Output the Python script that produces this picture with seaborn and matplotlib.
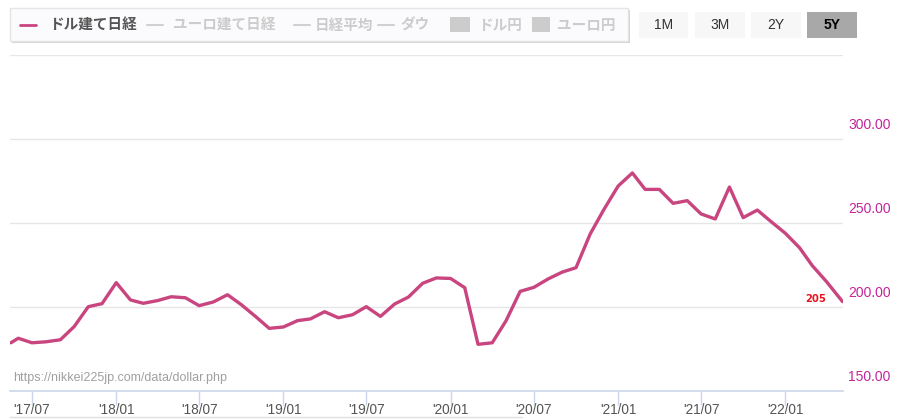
import pandas as pd
import matplotlib.pyplot as plt
import matplotlib.dates as mdates
import matplotlib.patches as mpatches
import matplotlib.transforms as mtransforms
import seaborn as sns

# monthly values of the dollar-denominated Nikkei
dates = ['2017-05-16'] + [d.strftime('%Y-%m-%d') for d in pd.date_range('2017-06-01', '2022-04-01', freq='MS')] + ['2022-05-06']
values = [178.7,
          181.4, 178.7, 179.3, 180.5, 188.3, 200.2, 202.0,
          214.5, 204.2, 202.2, 203.8, 206.1, 205.5, 200.8, 203.0, 207.3, 201.4, 194.4, 187.3,
          188.1, 191.9, 192.9, 197.2, 193.6, 195.4, 200.2, 194.4, 201.8, 205.9, 214.1, 217.3,
          217.0, 211.5, 177.8, 178.7, 191.7, 209.3, 211.7, 216.7, 220.8, 223.4, 243.5, 258.1,
          272.0, 279.8, 270.0, 270.0, 261.7, 263.3, 255.4, 252.4, 271.4, 253.2, 257.7, 250.8,
          243.9, 235.3, 224.6, 215.1,
          203.2]
last_label = '205'
y_ticks = [150, 200, 250, 300, 350]
x_ticks = ['2017-07-01', '2018-01-01', '2018-07-01', '2019-01-01', '2019-07-01',
           '2020-01-01', '2020-07-01', '2021-01-01', '2021-07-01', '2022-01-01']
legend_items = ['ドル建て日経', 'ユーロ建て日経', '日経平均', 'ダウ', 'ドル円', 'ユーロ円']
buttons = ['1M', '3M', '2Y', '5Y']

df = pd.DataFrame({'date': pd.to_datetime(dates), 'value': values})

sns.set_theme(style='white')
plt.rcParams['font.family'] = ['Liberation Sans', 'Noto Sans CJK JP', 'DejaVu Sans']

W, H = 900, 420
fig = plt.figure(figsize=(W / 100, H / 100), dpi=100)


def fx(px):
    return px / W


def fy(py):
    return 1 - py / H


line_color = '#c9457f'
ax = fig.add_axes([fx(10), fy(391), fx(843) - fx(10), fy(55) - fy(391)])
sns.lineplot(data=df, x='date', y='value', color=line_color, linewidth=2.4, ax=ax)

ax.set_xlim(pd.Timestamp('2017-05-14'), pd.Timestamp('2022-05-07'))
ax.set_ylim(150, 350)
ax.set_yticks(y_ticks)
ax.yaxis.grid(True, color='#e6e6e6', linewidth=1)
ax.xaxis.grid(False)
ax.set_yticklabels([])
ax.tick_params(axis='y', length=0)
for s in ['top', 'right', 'left']:
    ax.spines[s].set_visible(False)
ax.spines['bottom'].set_color('#ccd6eb')
ax.spines['bottom'].set_linewidth(1.2)

ax.set_xticks(pd.to_datetime(x_ticks))
ax.xaxis.set_major_formatter(mdates.DateFormatter("'%y/%m"))
ax.tick_params(axis='x', length=10, width=1, color='#ccd6eb', labelsize=9.8,
               labelcolor='#555555', pad=-1, direction='out', bottom=True)
ax.set_xlabel('')
ax.set_ylabel('')

# right-hand y labels, sitting above their grid lines
lift = mtransforms.offset_copy(ax.get_yaxis_transform(), fig=fig, x=0, y=7, units='dots')
for v in y_ticks[:-1]:
    ax.text(1.006, v, f'{v:.2f}', transform=lift,
            ha='left', va='bottom', fontsize=10, color='#c2259a')

# last value marker
ax.text(df['date'].iloc[-1] - pd.Timedelta(days=36), df['value'].iloc[-1] + 1.5, last_label,
        ha='right', va='center', fontsize=8, color='#e8141e', fontweight='bold',
        family=['DejaVu Sans'], fontstretch='condensed')

fig.text(fx(13), fy(378), 'https://nikkei225jp.com/data/dollar.php', fontsize=9,
         color='#a0a0a0', va='center', ha='left')

# bottom navigator line
fig.add_artist(plt.Line2D([fx(10), fx(522)], [fy(417), fy(417)], color='#e0e0e0', linewidth=1))

# legend box with a soft shadow
fig.add_artist(mpatches.Rectangle((fx(12), fy(43)), fx(618), fy(8) - fy(41),
                                  facecolor='#d4d4d4', edgecolor='none'))
fig.add_artist(mpatches.Rectangle((fx(10), fy(41)), fx(618), fy(8) - fy(41),
                                  facecolor='#fbfbfd', edgecolor='#e4e4e4', linewidth=1))
item_pos = [(20, 36, 49), (147, 163, 173), (294, 310, 315), (378, 394, 400), (450, 470, 478), (532, 550, 557)]
cy = fy(25)
for i, (name, (x0, x1, tx)) in enumerate(zip(legend_items, item_pos)):
    col = line_color if i == 0 else '#d0d0d0'
    tcol = '#555555' if i == 0 else '#cccccc'
    if i < 4:
        fig.add_artist(plt.Line2D([fx(x0), fx(x1)], [cy, cy], color=col,
                                  linewidth=2 if i == 0 else 1.5))
    else:
        fig.add_artist(mpatches.Rectangle((fx(x0), fy(32)), fx(x1 - x0), fy(17) - fy(32),
                                          facecolor='#cccccc', edgecolor='none'))
    fig.text(fx(tx), cy, name, fontsize=10.5, color=tcol, fontweight='bold',
             va='center', ha='left', family=['Noto Sans CJK JP', 'DejaVu Sans'])

# range buttons
btn_pos = [(639, 688), (695, 745), (751, 801), (807, 857)]
for name, (x0, x1) in zip(buttons, btn_pos):
    active = name == '5Y'
    fig.add_artist(mpatches.Rectangle((fx(x0), fy(38)), fx(x1 - x0), fy(12) - fy(38),
                                      facecolor='#a8a8a8' if active else '#f7f7f7',
                                      edgecolor='none'))
    fig.text(fx((x0 + x1) / 2), fy(25), name, fontsize=10,
             color='#000000' if active else '#333333',
             fontweight='bold' if active else 'normal', ha='center', va='center')

fig.savefig('out.png', dpi=100)
